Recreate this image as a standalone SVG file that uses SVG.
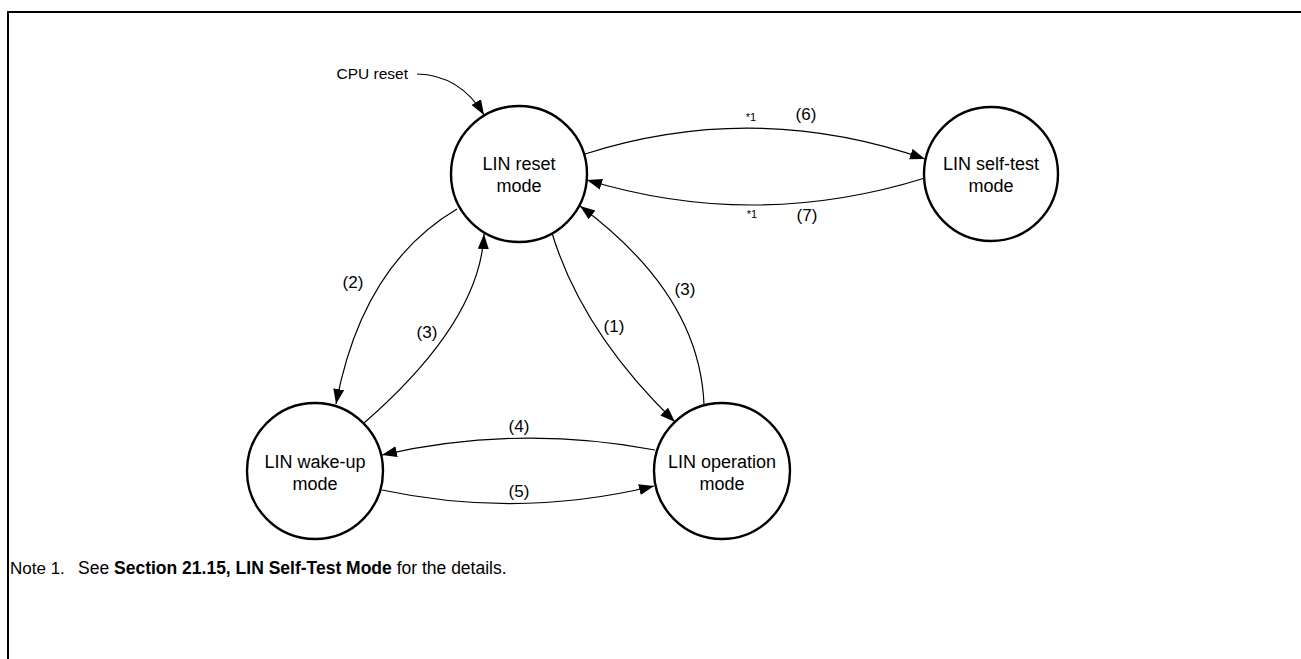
<svg xmlns="http://www.w3.org/2000/svg" width="1301" height="659" viewBox="0 0 1301 659">
<style>
.node{fill:#fff;stroke:#000;stroke-width:2.4}
.nt{font-family:"Liberation Sans",Arial,sans-serif;font-size:18px;fill:#000;text-anchor:middle}
.lbl{font-family:"Liberation Sans",Arial,sans-serif;font-size:17px;fill:#000;text-anchor:middle}
.ast{font-family:"Liberation Sans",Arial,sans-serif;font-size:11px;fill:#000;text-anchor:middle}
.edge{fill:none;stroke:#000;stroke-width:1.2;marker-end:url(#arr)}
.note{font-family:"Liberation Sans",Arial,sans-serif;font-size:17.5px;fill:#000}
</style>
<defs>
<marker id="arr" markerUnits="userSpaceOnUse" markerWidth="16" markerHeight="12" refX="15" refY="5.5" orient="auto">
<path d="M0,0 L15,5.5 L0,11 z" fill="#000"/>
</marker>
</defs>
<rect width="1301" height="659" fill="#fff"/>
<path d="M8,659 L8,12 L1301,12" fill="none" stroke="#000" stroke-width="2"/>
<g id="connectors">
<path class="edge" d="M417,74 Q460,75 484,115"/>
<path class="edge" d="M585,154 Q755,100 925,159"/>
<path class="edge" d="M925,178 Q755,231 587,180"/>
<path class="edge" d="M457,209 Q362,265 336,404"/>
<path class="edge" d="M364,423 Q480,322 484,234"/>
<path class="edge" d="M552,233 Q582,332 675,422"/>
<path class="edge" d="M704,405 Q700,295 580,206"/>
<path class="edge" d="M655,450 Q518,424 382,455"/>
<path class="edge" d="M382,490 Q518,519 654,486"/>
</g>
<g id="labels">
<text class="lbl" x="408" y="79" style="text-anchor:end;font-size:15.5px">CPU reset</text>
<text class="lbl" x="806" y="120">(6)</text>
<text class="ast" x="751" y="121">*1</text>
<text class="lbl" x="807" y="221">(7)</text>
<text class="ast" x="752" y="218">*1</text>
<text class="lbl" x="353" y="288">(2)</text>
<text class="lbl" x="427" y="338">(3)</text>
<text class="lbl" x="614" y="332">(1)</text>
<text class="lbl" x="685" y="295">(3)</text>
<text class="lbl" x="519" y="432">(4)</text>
<text class="lbl" x="519" y="497">(5)</text>
</g>
<g id="node-reset">
<circle class="node" cx="519" cy="174" r="68"/>
<text class="nt" x="519" y="170">LIN reset</text>
<text class="nt" x="519" y="192">mode</text>
</g>
<g id="node-selftest">
<circle class="node" cx="991" cy="174" r="67"/>
<text class="nt" x="991" y="170">LIN self-test</text>
<text class="nt" x="991" y="192">mode</text>
</g>
<g id="node-wakeup">
<circle class="node" cx="315" cy="471" r="68"/>
<text class="nt" x="315" y="468">LIN wake-up</text>
<text class="nt" x="315" y="490">mode</text>
</g>
<g id="node-operation">
<circle class="node" cx="722" cy="471" r="68"/>
<text class="nt" x="722" y="468">LIN operation</text>
<text class="nt" x="722" y="490">mode</text>
</g>
<g id="note">
<text class="note" x="10" y="574" style="font-size:17px">Note 1.</text>
<text class="note" x="78" y="574">See <tspan font-weight="bold">Section 21.15, LIN Self-Test Mode</tspan> for the details.</text>
</g>
</svg>
